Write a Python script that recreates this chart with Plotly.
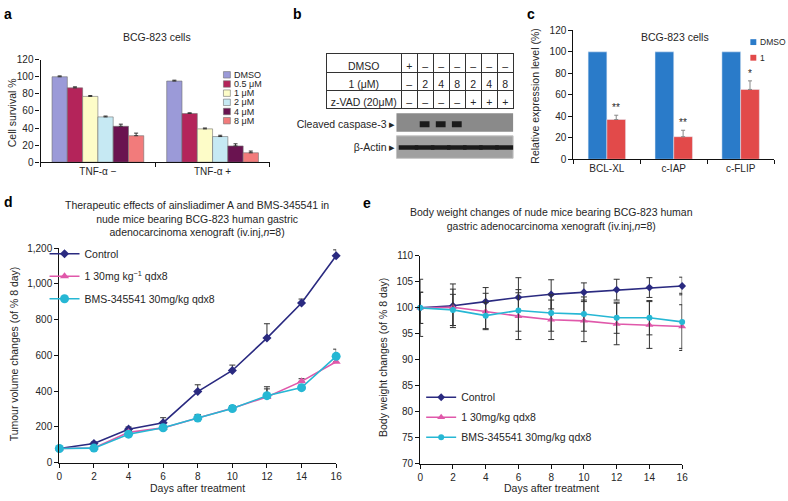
import plotly.graph_objects as go

W, H = 788, 501


def px(x):
    return x / W


def py(y):
    return 1 - y / H


FONT = "Liberation Sans, Arial, sans-serif"
TXT = "#262626"

# ---------------- Panel a data ----------------
a_categories = ["TNF-α −", "TNF-α +"]
a_treatments = ["DMSO", "0.5 μM", "1 μM", "2 μM", "4 μM", "8 μM"]
a_tnf_minus = [100, 87, 77, 53, 42, 31]
a_tnf_plus = [95, 57, 39, 30, 19, 11]
a_err_minus = [1.0, 1.2, 1.0, 1.0, 2.5, 3.0]
a_err_plus = [1.0, 0.8, 1.0, 1.5, 2.5, 2.0]
a_ticks = [0, 20, 40, 60, 80, 100, 120]

# ---------------- Panel b data ----------------
b_row_labels = ["DMSO", "1\u00a0(μM)", "z-VAD\u00a0(20μM)"]
b_dmso = ["+", "–", "–", "–", "–", "–", "–"]
b_cmpd = ["–", "2", "4", "8", "2", "4", "8"]
b_zvad = ["–", "–", "–", "–", "+", "+", "+"]
b_lanes = [1, 2, 3, 4, 5, 6, 7]
b_blots = ["Cleaved caspase-3 ▸", "β-Actin ▸"]
b_caspase = [0, 1, 1, 1, 0, 0, 0]
b_actin = [1, 1, 1, 1, 1, 1, 1]

# ---------------- Panel c data ----------------
c_genes = ["BCL-XL", "c-IAP", "c-FLIP"]
c_series = ["DMSO", "1"]
c_dmso = [100, 100, 100]
c_cmpd = [37, 21, 65]
c_cmpd_err = [4, 6, 8]
c_sig = ["**", "**", "*"]
c_ticks = [0, 20, 40, 60, 80, 100, 120]

# ---------------- Panel d data ----------------
days = [0, 2, 4, 6, 8, 10, 12, 14, 16]
d_names = ["Control", "1 30mg kg<sup>−1</sup> qdx8", "BMS-345541 30mg/kg qdx8"]
d_control = [80, 108, 188, 224, 398, 516, 697, 893, 1157]
d_control_err = [0, 8, 12, 28, 38, 30, 80, 22, 33]
d_cmpd = [80, 83, 170, 195, 250, 305, 368, 455, 565]
d_cmpd_err = [0, 5, 10, 10, 17, 15, 45, 15, 40]
d_bms = [80, 82, 160, 196, 250, 303, 375, 420, 595]
d_bms_err = [0, 5, 10, 10, 20, 15, 50, 15, 40]
d_ticks = [0, 200, 400, 600, 800, 1000, 1200]

# ---------------- Panel e data ----------------
e_names = ["Control", "1 30mg/kg qdx8", "BMS-345541 30mg/kg qdx8"]
e_control = [100, 100.4, 101.2, 102.0, 102.6, 103.0, 103.5, 103.9, 104.2]
e_control_err = [5.5, 4.2, 2.7, 3.8, 2.8, 1.8, 2.0, 1.9, 1.7]
e_cmpd = [100, 100.1, 99.3, 98.4, 97.7, 97.5, 96.9, 96.7, 96.4]
e_cmpd_err = [3.0, 3.5, 3.5, 4.5, 3.8, 4.0, 4.0, 4.5, 4.2]
e_bms = [100, 99.6, 98.5, 99.5, 99.0, 98.8, 98.1, 98.1, 97.3]
e_bms_err = [3.0, 3.0, 2.5, 4.0, 3.5, 3.3, 3.0, 3.3, 5.5]
e_ticks = [70, 75, 80, 85, 90, 95, 100, 105, 110]

# ---------------- styles ----------------
a_colors = ["#9b9ad8", "#b4245a", "#fdfcc8", "#c6e9f3", "#6a1350", "#f27b7b"]
C_BLUE = "#2a7bc9"
C_RED = "#e24a4a"
NAVY = "#2a2a80"
PINK = "#e058aa"
CYAN = "#26b7d4"

fig = go.Figure()

# ---- panel a bars
bw = 0.8 / len(a_treatments)
for i, name in enumerate(a_treatments):
    fig.add_trace(go.Bar(
        x=a_categories, y=[a_tnf_minus[i], a_tnf_plus[i]], name=name,
        width=bw, offset=-0.4 + i * bw,
        marker=dict(color=a_colors[i], line=dict(color="#707070", width=0.6)),
        error_y=dict(type="data", symmetric=False,
                     array=[a_err_minus[i], a_err_plus[i]], arrayminus=[0, 0],
                     color="#333", thickness=1, width=2),
        xaxis="x", yaxis="y", showlegend=False))

# ---- panel b blot bands
for row, intens in enumerate([b_caspase, b_actin]):
    xs = [lane for lane, v in zip(b_lanes, intens) if v > 0]
    fig.add_trace(go.Scatter(
        x=xs, y=[row] * len(xs), mode="markers",
        marker=dict(symbol="line-ew", size=7 if row == 0 else 14,
                    line=dict(width=6 if row == 0 else 4.5, color="#1b1b1b")),
        xaxis="x2", yaxis="y2", showlegend=False, hoverinfo="skip"))

# ---- panel b table
fig.add_trace(go.Table(
    domain=dict(x=[px(327), px(517)], y=[py(108), py(49)]),
    columnwidth=[75] + [16] * 7,
    header=dict(values=[b_row_labels[0]] + b_dmso, height=18.5,
                fill_color="white", line=dict(color="#333", width=1),
                align="center", font=dict(size=10.5, family=FONT, color=TXT)),
    cells=dict(values=[[b_row_labels[1], b_row_labels[2]]] +
               [[b_cmpd[i], b_zvad[i]] for i in range(len(b_lanes))],
               height=18, fill_color="white", line=dict(color="#333", width=1),
               align="center", font=dict(size=10.5, family=FONT, color=TXT))))

# ---- panel c bars
c_w = 0.28
fig.add_trace(go.Bar(x=c_genes, y=c_dmso, width=c_w, offset=-c_w, name=c_series[0],
                     marker=dict(color=C_BLUE), xaxis="x3", yaxis="y3", showlegend=False))
fig.add_trace(go.Bar(x=c_genes, y=c_cmpd, width=c_w, offset=0, name=c_series[1],
                     marker=dict(color=C_RED),
                     error_y=dict(type="data", symmetric=False, array=c_cmpd_err,
                                  arrayminus=[0] * len(c_cmpd), color="#888",
                                  thickness=1, width=2),
                     xaxis="x3", yaxis="y3", showlegend=False))

# ---- panel d lines
d_specs = [(d_control, d_control_err, NAVY, "diamond", 7),
           (d_cmpd, d_cmpd_err, PINK, "triangle-up", 8),
           (d_bms, d_bms_err, CYAN, "circle", 9)]
for k, (vals, errs, col, sym, sz) in enumerate(d_specs):
    fig.add_trace(go.Scatter(
        x=days, y=vals, name=d_names[k], mode="lines+markers",
        line=dict(color=col, width=1.6), marker=dict(color=col, symbol=sym, size=sz),
        error_y=dict(type="data", symmetric=False, array=errs,
                     arrayminus=[0] * len(errs), color="#333", thickness=1, width=3),
        cliponaxis=False, xaxis="x4", yaxis="y4",
        legend="legend3", legendgroup="d%d" % k))

# ---- panel e lines
e_specs = [(e_control, e_control_err, NAVY, "diamond", 6),
           (e_cmpd, e_cmpd_err, PINK, "triangle-up", 7),
           (e_bms, e_bms_err, CYAN, "circle", 6)]
for k, (vals, errs, col, sym, sz) in enumerate(e_specs):
    fig.add_trace(go.Scatter(
        x=days, y=vals, name=e_names[k], mode="lines+markers",
        line=dict(color=col, width=1.6), marker=dict(color=col, symbol=sym, size=sz),
        error_y=dict(type="data", array=errs, color="#333", thickness=1, width=3),
        cliponaxis=False, xaxis="x5", yaxis="y5",
        legend="legend4", legendgroup="e%d" % k))

ax = dict(showline=True, linecolor="#111", linewidth=1.2, ticks="outside", ticklen=4,
          tickcolor="#111", tickwidth=1, showgrid=False, zeroline=False,
          tickfont=dict(size=10, family=FONT, color=TXT))
hidden = dict(visible=False, showgrid=False, zeroline=False)

annotations = []


def ann(text, x, y, size=10.5, color=TXT, xanchor="center", yanchor="middle", **kw):
    d = dict(text=text, x=px(x), y=py(y), xref="paper", yref="paper", showarrow=False,
             xanchor=xanchor, yanchor=yanchor,
             font=dict(size=size, family=FONT, color=color))
    d.update(kw)
    annotations.append(d)


shapes = []

# panel letters
for letter, (lx, ly) in zip("abcde", [(5, 8), (298, 8), (534, 8), (6, 201), (368, 202)]):
    ann("<b>%s</b>" % letter, lx, ly, size=14, color="#000")

# titles
ann("BCG-823 cells", 156, 32)
ann("BCG-823 cells", 680, 32)
ann("Therapeutic effects of ainsliadimer A and BMS-345541 in<br>"
    "nude mice bearing BCG-823 human gastric<br>"
    "adenocarcinoma xenograft (iv.inj,<i>n</i>=8)", 196, 218)
ann("Body weight changes of nude mice bearing BCG-823 human<br>"
    "gastric adenocarcinoma xenograft (iv.inj,<i>n</i>=8)", 555, 218.5)

# axis titles
ann("Cell survival %", 9, 109, textangle=-90)
ann("Relative expression level (%)", 538, 92, textangle=-90)
ann("Tumour volume changes (of % 8 day)", 12, 356, textangle=-90)
ann("Body weight changes (of % 8 day)", 385, 360, textangle=-90)
ann("Days after treatment", 197, 494)
ann("Days after treatment", 555, 494)

# panel a legend (manual, compact)
for i, name in enumerate(a_treatments):
    yc = 70.5 + 9.4 * i
    shapes.append(dict(type="rect", xref="paper", yref="paper",
                       x0=px(223), x1=px(230), y0=py(yc + 3.3), y1=py(yc - 3.3),
                       fillcolor=a_colors[i], line=dict(color="#707070", width=0.6)))
    ann(name, 231.5, yc, size=9, xanchor="left")

# panel c legend (manual)
for i, name in enumerate(c_series):
    yc = 37 + 16 * i
    shapes.append(dict(type="rect", xref="paper", yref="paper",
                       x0=px(756), x1=px(762), y0=py(yc + 3), y1=py(yc - 3),
                       fillcolor=[C_BLUE, C_RED][i], line=dict(width=0)))
    ann(name, 763.5, yc, size=8.5, xanchor="left")

# significance stars
for i, g in enumerate(c_genes):
    annotations.append(dict(text=c_sig[i], x=g, y=c_cmpd[i] + c_cmpd_err[i],
                            xref="x3", yref="y3", xshift=9.5, yanchor="bottom",
                            xanchor="center",
                            showarrow=False, font=dict(size=10, family=FONT, color=TXT)))

# blot backgrounds
shapes.append(dict(type="rect", xref="x2 domain", yref="y2", x0=0, x1=1, y0=-0.47, y1=0.33,
                   fillcolor="#8a8a8a", line=dict(width=0), layer="below"))
shapes.append(dict(type="rect", xref="x2 domain", yref="y2", x0=0, x1=1, y0=0.5, y1=1.47,
                   fillcolor="#a0a0a0", line=dict(color="#c4c4c4", width=1), layer="below"))

fig.update_layout(
    width=W, height=501, autosize=False,
    margin=dict(l=0, r=0, t=0, b=0),
    paper_bgcolor="white", plot_bgcolor="white",
    barmode="overlay",
    font=dict(family=FONT, size=10.5, color=TXT),
    xaxis=dict(ax, domain=[px(38), px(270)], type="category", tickson="boundaries",
               anchor="y", range=[-0.5, 1.5]),
    yaxis=dict(ax, domain=[py(160), py(55)], range=[0, 120], tickvals=a_ticks, anchor="x"),
    xaxis2=dict(hidden, domain=[px(398), px(516)], range=[0.25, 7.5], anchor="y2"),
    yaxis2=dict(domain=[py(158), py(108)], range=[1.55, -0.55], tickvals=[0, 1],
                ticktext=b_blots, showline=False, showgrid=False, zeroline=False,
                ticks="", tickfont=dict(size=10.5, family=FONT, color=TXT), anchor="x2"),
    xaxis3=dict(ax, domain=[px(577), px(780)], type="category", tickson="boundaries",
                anchor="y3", range=[-0.5, 2.5]),
    yaxis3=dict(ax, domain=[py(157), py(25)], range=[0, 120], tickvals=c_ticks, anchor="x3"),
    xaxis4=dict(ax, domain=[px(57), px(337)], range=[0, 16], tickvals=days, anchor="y4"),
    yaxis4=dict(ax, domain=[py(468), py(248)], range=[0, 1200], tickvals=d_ticks,
                tickformat=",", anchor="x4"),
    xaxis5=dict(ax, domain=[px(422), px(687)], range=[0, 16], tickvals=days, anchor="y5"),
    yaxis5=dict(ax, domain=[py(469), py(256)], range=[70, 110], tickvals=e_ticks, anchor="x5"),
    legend3=dict(x=px(42), y=py(239), xanchor="left", yanchor="top",
                 font=dict(size=10.5, family=FONT, color=TXT), bgcolor="rgba(0,0,0,0)",
                 tracegroupgap=3.5),
    legend4=dict(x=px(423), y=py(386), xanchor="left", yanchor="top",
                 font=dict(size=10.5, family=FONT, color=TXT), bgcolor="rgba(0,0,0,0)",
                 tracegroupgap=1),
    showlegend=True,
    annotations=annotations,
    shapes=shapes,
)

fig.write_html("out.html", config={"displayModeBar": False},
               post_script="document.body.style.margin='0';")
